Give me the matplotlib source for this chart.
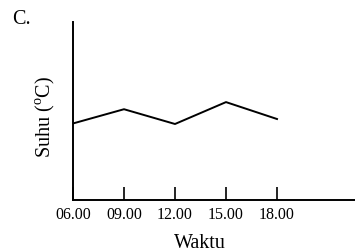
import matplotlib
matplotlib.use("Agg")
import matplotlib.pyplot as plt

plt.rcParams['font.family'] = ['Liberation Serif', 'DejaVu Serif']
plt.rcParams['mathtext.fontset'] = 'custom'
plt.rcParams['mathtext.rm'] = 'Liberation Serif'

hours = [6, 9, 12, 15, 18]
tick_labels = ["06.00", "09.00", "12.00", "15.00", "18.00"]
temps = [43, 51, 42.7, 55, 45.5]

fig = plt.figure(figsize=(3.55, 2.52), dpi=100)
ax = fig.add_axes([73/355, 52/252, 282/355, 178/252])
ax.plot(hours, temps, color='black', linewidth=1.4)
ax.set_xlim(6, 6 + 282/51*3)
ax.set_ylim(0, 100)
ax.set_xticks(hours)
ax.set_xticklabels(tick_labels, fontsize=11.5)
ax.tick_params(axis='x', direction='in', length=9.5, width=1.2, pad=5)
ax.set_yticks([])
for s in ['top', 'right']:
    ax.spines[s].set_visible(False)
for s in ['left', 'bottom']:
    ax.spines[s].set_linewidth(1.4)

fig.text(200/355, 1 - 243/252, "Waktu", ha='center', va='center', fontsize=14.5)
fig.text(45/355, 1 - 117/252, "Suhu ($^{\\mathrm{o}}$C)", rotation=90, ha='center', va='center', fontsize=14.5)
fig.text(21/355, 1 - 20/252, "C.", ha='center', va='center', fontsize=14.5)

fig.savefig("out.png", dpi=100)
